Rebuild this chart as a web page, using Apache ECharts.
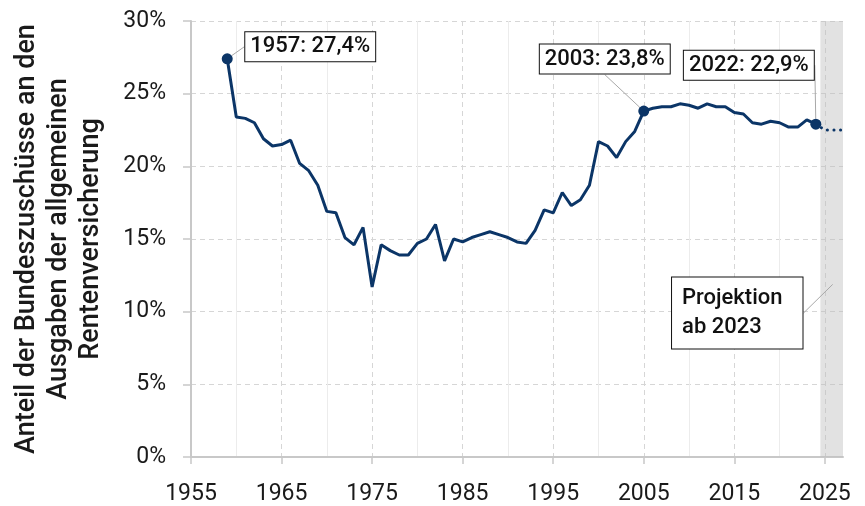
<!DOCTYPE html>
<html>
<head>
<meta charset="utf-8">
<script src="https://cdn.jsdelivr.net/npm/echarts@6/dist/echarts.min.js"></script>
<style>
  * { margin: 0; padding: 0; }
  body { background: #fff; }
</style>
</head>
<body>
<!-- chart container -->
<div id="main" style="width: 865px;height: 506px;"></div>
<script>
// positions on the x axis (the chart draws each year two steps to the right of its label)
const years = [
  1959, 1960, 1961, 1962, 1963, 1964, 1965, 1966, 1967, 1968, 1969,
  1970, 1971, 1972, 1973, 1974, 1975, 1976, 1977, 1978, 1979,
  1980, 1981, 1982, 1983, 1984, 1985, 1986, 1987, 1988, 1989,
  1990, 1991, 1992, 1993, 1994, 1995, 1996, 1997, 1998, 1999,
  2000, 2001, 2002, 2003, 2004, 2005, 2006, 2007, 2008, 2009,
  2010, 2011, 2012, 2013, 2014, 2015, 2016, 2017, 2018, 2019,
  2020, 2021, 2022, 2023, 2024
];
// Anteil in %
const share = [
  27.4, 23.4, 23.3, 23.0, 21.9, 21.4, 21.5, 21.8, 20.2, 19.7, 18.7,
  16.9, 16.8, 15.1, 14.6, 15.8, 11.7, 14.6, 14.2, 13.9, 13.9,
  14.7, 15.0, 16.0, 13.5, 15.0, 14.8, 15.1, 15.3, 15.5, 15.3,
  15.1, 14.8, 14.7, 15.6, 17.0, 16.8, 18.2, 17.3, 17.7, 18.7,
  21.7, 21.4, 20.6, 21.7, 22.4, 23.8, 24.0, 24.1, 24.1, 24.3,
  24.2, 24.0, 24.3, 24.1, 24.1, 23.7, 23.6, 23.0, 22.9, 23.1,
  23.0, 22.7, 22.7, 23.2, 22.9
];
// Projektion
const projYears = [2024, 2025, 2026, 2027];
const projShare = [22.9, 22.5, 22.5, 22.5];

const xTicks = [1955, 1965, 1975, 1985, 1995, 2005, 2015, 2025];
const projBand = [2024.5, 2027];

// highlighted points: [x, value, text]
const notes = [
  [1959, 27.4, "1957: 27,4%"],
  [2005, 23.8, "2003: 23,8%"],
  [2024, 22.9, "2022: 22,9%"]
];
const projNote = [2025.9, 11.9, "Projektion\nab 2023"];
// label offsets from the point (px)
const noteOffsets = [[83, -12], [-39, -52], [-67, -59], [-161, 29]];

const navy = "#0b3567";
const font = "Roboto";

let charts = echarts.init(document.getElementById("main"));

let noteData = notes.map(function(n) {
  return { name: n[2], value: [n[0], n[1]] };
});
noteData.push({
  name: projNote[2],
  value: [projNote[0], projNote[1]],
  symbolSize: 1,
  itemStyle: { color: "transparent" },
  label: { align: "left", lineHeight: 29, padding: [7, 20, 6, 10] }
});

let opinion = {
  animation: false,
  textStyle: { fontFamily: font },
  grid: { left: 191, right: 22, top: 21, bottom: 47 },
  xAxis: {
    type: "value",
    min: 1955,
    max: 2027,
    interval: 10,
    axisLine: { lineStyle: { color: "#c8c8c8", width: 2 } },
    axisTick: { customValues: xTicks, length: 7, lineStyle: { color: "#c8c8c8", width: 1.5 } },
    axisLabel: {
      customValues: xTicks,
      color: "#1a1a1a",
      fontSize: 23,
      margin: 26,
      formatter: function(v) { return String(v); }
    },
    splitLine: { show: true, lineStyle: { color: "#d6d6d6", type: [5, 4] } },
    minorTick: { show: false, splitNumber: 2 },
    minorSplitLine: { show: true, lineStyle: { color: "#ececec", width: 1 } }
  },
  yAxis: {
    type: "value",
    min: 0,
    max: 30,
    interval: 5,
    name: "Anteil der Bundeszuschüsse an den\nAusgaben der allgemeinen\nRentenversicherung",
    nameLocation: "middle",
    nameRotate: 90,
    nameGap: 84,
    nameTextStyle: { fontSize: 27, fontWeight: 500, lineHeight: 32, color: "#1a1a1a", align: "center" },
    axisLine: { show: true, lineStyle: { color: "#c8c8c8", width: 2 } },
    axisTick: { show: true, length: 8, lineStyle: { color: "#c8c8c8", width: 1.5 } },
    axisLabel: { color: "#1a1a1a", fontSize: 23, margin: 25, formatter: "{value}%" },
    splitLine: { show: true, lineStyle: { color: "#d6d6d6", type: [5, 4] } }
  },
  series: [
    {
      name: "Anteil",
      type: "line",
      data: years.map(function(y, i) { return [y, share[i]]; }),
      symbol: "none",
      silent: true,
      z: 3,
      lineStyle: { color: navy, width: 3 }
    },
    {
      name: "Projektion",
      type: "line",
      data: projYears.map(function(y, i) { return [y, projShare[i]]; }),
      symbol: "none",
      silent: true,
      z: 3,
      lineStyle: { color: navy, width: 3, type: [0.1, 6.5], cap: "round" },
      markArea: {
        silent: true,
        itemStyle: { color: "rgba(190,190,190,0.45)" },
        data: [[{ xAxis: projBand[0] }, { xAxis: projBand[1] }]]
      }
    },
    {
      name: "Hinweise",
      type: "scatter",
      data: noteData,
      symbolSize: 11,
      silent: true,
      z: 5,
      itemStyle: { color: navy, opacity: 1 },
      label: {
        show: true,
        position: "inside",
        formatter: function(p) { return p.name; },
        color: "#111",
        fontSize: 22,
        fontWeight: 500,
        backgroundColor: "#fff",
        borderColor: "#111",
        borderWidth: 1,
        padding: [4, 5, 3, 5]
      },
      labelLine: { show: true, lineStyle: { color: "#a8a8a8", width: 1 } },
      labelLayout: function(params) {
        let o = noteOffsets[params.dataIndex];
        return { dx: o[0], dy: o[1] };
      }
    }
  ]
};

charts.setOption(opinion);
</script>
</body>
</html>
